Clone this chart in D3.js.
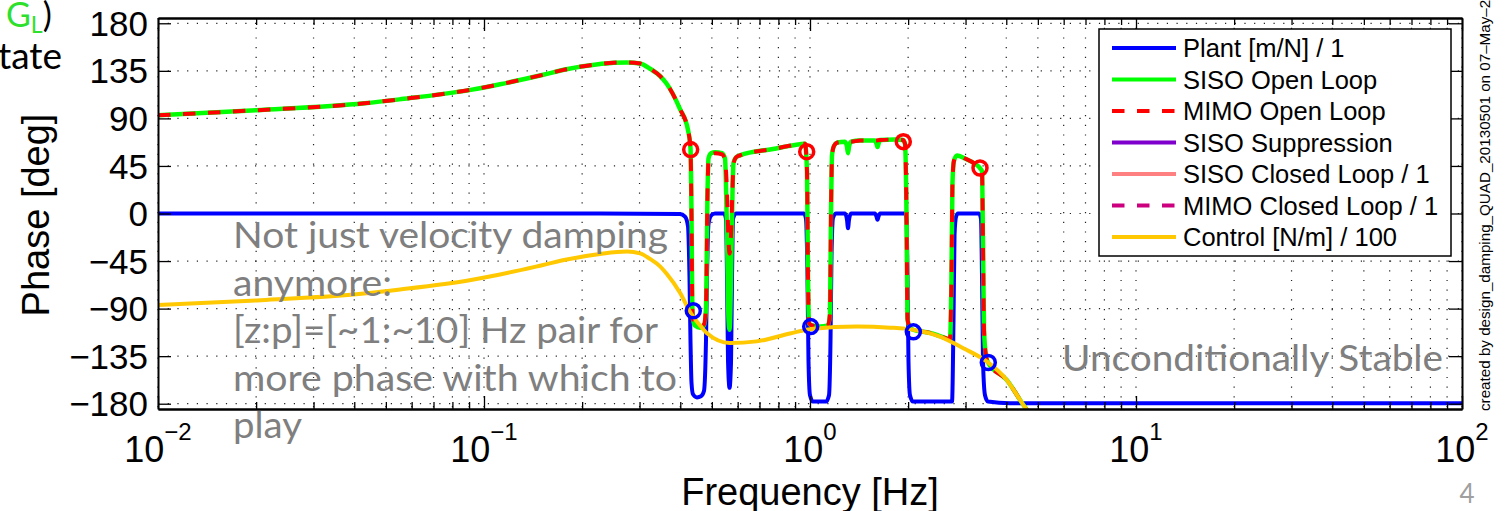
<!DOCTYPE html>
<html>
<head>
<meta charset="utf-8">
<title>Phase</title>
<script src="https://cdn.jsdelivr.net/npm/d3@7"></script>
<style>
	html, body { margin: 0; padding: 0; background: #fff; overflow: hidden; }
	svg { display: block; }
</style>
</head>
<body>
<svg id="chart" width="1509" height="511"></svg>
<script>

var legendLabels = ['Plant [m/N] / 1', 'SISO Open Loop', 'MIMO Open Loop', 'SISO Suppression', 'SISO Closed Loop / 1', 'MIMO Closed Loop / 1', 'Control [N/m] / 100']

var freqTicks = [0.01, 0.1, 1, 10, 100]
var freqMinorTicks = [0.02, 0.03, 0.04, 0.05, 0.06, 0.07, 0.08, 0.09, 0.2, 0.3, 0.4, 0.5, 0.6, 0.7, 0.8, 0.9, 2, 3, 4, 5, 6, 7, 8, 9, 20, 30, 40, 50, 60, 70, 80, 90]
var phaseTicks = [-180, -135, -90, -45, 0, 45, 90, 135, 180]

// plant [m/N]
var plantFreq = [0.01, 0.2269, 0.399, 0.4136, 0.4224, 0.4269, 0.4299, 0.4330, 0.4376, 0.4502, 0.4630, 0.4729, 0.4797, 0.4831, 0.4882, 0.4970, 0.5112, 0.5448, 0.5525, 0.5565, 0.5605, 0.5665, 0.5725, 0.5765, 0.5806, 0.5929, 0.9585, 0.9721, 0.9824, 0.9895, 1.0, 1.0214, 1.1198, 1.1437, 1.1559, 1.1641, 1.1766, 1.2018, 1.2806, 1.2987, 1.3080, 1.3171, 1.3360, 1.5826, 1.5995, 1.6109, 1.6221, 1.6394, 1.9562, 1.9770, 1.9911, 2.0050, 2.0264, 2.0701, 2.7269, 2.7560, 2.7757, 2.8053, 2.8445, 3.2994, 3.3460, 3.3700, 3.3941, 3.4421, 3.5156, 4.1069, 100]
var plantPhase = [0, 0, -0.5, -3, -12, -60, -120, -160, -171, -174, -173, -168, -120, -60, -10, -2, 0, 0, -5, -60, -140, -165, -140, -60, -5, 0, 0, -5, -60, -140, -172, -178, -178, -172, -120, -40, -4, 0, 0, -6, -14, -6, 0, 0, -3, -6, -3, 0, 0, -5, -60, -140, -172, -178, -178, -100, -20, -3, 0, 0, -5, -60, -140, -172, -178, -179.5, -179.5]

// SISO open loop
var sisoOLFreq = [0.01, 0.02, 0.043, 0.055, 0.091, 0.112, 0.152, 0.179, 0.227, 0.25, 0.274, 0.301, 0.323, 0.347, 0.363, 0.399, 0.4224, 0.4299, 0.4330, 0.4355, 0.4376, 0.4438, 0.4600, 0.4729, 0.4797, 0.4849, 0.4882, 0.4970, 0.5112, 0.5372, 0.5487, 0.5565, 0.5623, 0.5665, 0.5725, 0.5785, 0.5826, 0.5929, 0.6099, 0.7700, 0.9318, 0.9654, 0.9790, 0.9860, 0.9929, 1.0142, 1.0732, 1.1355, 1.1516, 1.1600, 1.1682, 1.1846, 1.2099, 1.2806, 1.2987, 1.3080, 1.3171, 1.3360, 1.4236, 1.5826, 1.5995, 1.6109, 1.6221, 1.6394, 1.8226, 1.9289, 1.9562, 1.9770, 1.9911, 2.0264, 2.0701, 2.3338, 2.505, 2.6885, 2.7164, 2.7359, 2.7652, 2.8248, 2.9895, 3.2069, 3.3225, 3.3700, 3.3941, 3.4177, 3.4667, 3.5156, 4.012, 4.511, 4.729]
var sisoOLPhase = [93, 97.7, 104.3, 108, 117, 122.3, 131.3, 136.5, 141.5, 142.7, 143, 142, 137, 130, 123, 99, 79, 62, 0, -88, -100, -106, -108, -106, -90, 20, 52, 57, 58, 57, 52, -20, -100, -110, -60, 20, 48, 53, 55, 61, 65.5, 66, 40, -60, -104, -106, -107, -106, -95, 0, 55, 64, 67, 68, 63, 57, 63, 68, 69, 69, 66, 63, 66, 69.5, 70, 69.5, 66, 0, -100, -108, -110, -113, -116, -119, -60, 30, 50, 55, 52, 47, 43, 40, -30, -110, -135, -141, -157.5, -181, -190]

// MIMO open loop
var mimoOLFreq = [0.01, 0.02, 0.043, 0.055, 0.091, 0.112, 0.152, 0.179, 0.227, 0.25, 0.274, 0.301, 0.323, 0.347, 0.363, 0.399, 0.4224, 0.4299, 0.4330, 0.4355, 0.4376, 0.4438, 0.4600, 0.4729, 0.4797, 0.4849, 0.4882, 0.4970, 0.5112, 0.5372, 0.5487, 0.5565, 0.5623, 0.5665, 0.5725, 0.5785, 0.5826, 0.5929, 0.6099, 0.7700, 0.9318, 0.9654, 0.9790, 0.9860, 0.9929, 1.0142, 1.0732, 1.1355, 1.1516, 1.1600, 1.1682, 1.1846, 1.2099, 1.2806, 1.3360, 1.4236, 1.5826, 1.6394, 1.8226, 1.9289, 1.9562, 1.9770, 1.9911, 2.0264, 2.0701, 2.3338, 2.505, 2.6885, 2.7164, 2.7359, 2.7652, 2.8248, 2.9895, 3.2069, 3.3225, 3.3700, 3.3941, 3.4177, 3.4667, 3.5156, 4.012, 4.511, 4.729]
var mimoOLPhase = [93, 97.7, 104.3, 108, 117, 122.3, 131.3, 136.5, 141.5, 142.7, 143, 142, 137, 130, 123, 99, 79, 62, 0, -88, -100, -105, -107, -105, -88, 20, 50, 56, 57, 56, 51, 20, -25, -38, -20, 25, 47, 53, 55, 61, 65.5, 66, 40, -60, -104, -106, -107, -106, -95, 0, 55, 64, 67, 68, 68, 69, 69, 69.5, 70, 69.5, 66, 0, -100, -108, -110, -113, -116, -119, -60, 30, 50, 55, 52, 47, 43, 40, -30, -110, -135, -141, -157.5, -181, -190]

// control [N/m] / 100
var controlFreq = [0.01, 0.0201, 0.0428, 0.0553, 0.0912, 0.112, 0.1517, 0.1794, 0.2269, 0.2747, 0.301, 0.323, 0.3467, 0.3634, 0.3993, 0.4284, 0.46, 0.482, 0.568, 0.686, 0.868, 1.024, 1.391, 1.76, 2.075, 2.505, 2.953, 3.483, 4.012, 4.511, 4.729]
var controlPhase = [-86.6, -82.3, -75.7, -71.9, -62.9, -57.7, -48.7, -43.5, -38.3, -36, -37.7, -43, -50, -57, -75, -93, -106, -113, -122.5, -121, -113.5, -109, -107, -108, -110, -116.5, -127.5, -140, -157.5, -181, -190]

// circled points
var olMarkFreq = [0.4305, 0.9770, 1.9329, 3.3225]
var olMarkPhase = [60.5, 58.5, 68, 43]
var ctrlMarkFreq = [0.4385, 1.0049, 2.075, 3.5229]
var ctrlMarkPhase = [-92, -107, -112, -141]

var noteLines = ['Not just velocity damping', 'anymore:', '[z:p]=[~1:~10] Hz pair for', 'more phase with which to', 'play']
var stableNote = 'Unconditionally Stable'
var creditNote = 'created by design_damping_QUAD_20130501 on 07\u2013May\u20132013'

var W = 1509, H = 511,
	box = { left: 158, right: 1462, top: 18, bottom: 409 },
	helv = '"Liberation Sans", Arial, Helvetica, sans-serif',
	slide = 'Lato, "Open Sans", sans-serif',
	noteWidths = [435, 159, 425, 444, 69],
	minus = (v) => (v < 0 ? '\u2212' : '') + Math.abs(v)

var styles = [
	{ color: '#0000ff', dash: null },
	{ color: '#00ff00', dash: null },
	{ color: '#ff0000', dash: '12.5,12.5' },
	{ color: '#7f00cc', dash: null },
	{ color: '#ff8080', dash: null },
	{ color: '#cc007f', dash: '12.5,12.5' },
	{ color: '#ffc800', dash: null }
]

var svg = d3.select('#chart')
svg.append('rect').attr('width', W).attr('height', H).attr('fill', '#fff')

var x = d3.scaleLog().domain([0.01, 100]).range([box.left, box.right])
var y = d3.scaleLinear().domain([-185, 185]).range([box.bottom, box.top])

svg.append('clipPath').attr('id', 'plotArea').append('rect')
	.attr('x', box.left).attr('y', box.top)
	.attr('width', box.right - box.left).attr('height', box.bottom - box.top)

// dotted grid
var grid = svg.append('g')
grid.selectAll('.gx').data(freqTicks.concat(freqMinorTicks)).enter().append('line')
	.attr('class', 'gx')
	.attr('x1', (d) => x(d)).attr('x2', (d) => x(d))
	.attr('y1', box.top).attr('y2', box.bottom)
grid.selectAll('.gy').data(phaseTicks).enter().append('line')
	.attr('class', 'gy')
	.attr('x1', box.left).attr('x2', box.right)
	.attr('y1', (d) => y(d)).attr('y2', (d) => y(d))
grid.selectAll('line')
	.attr('stroke', '#222').attr('stroke-width', 1.2).attr('stroke-dasharray', '1.2,8.5')

// curves
var line = d3.line().x((d) => x(d[0])).y((d) => y(d[1])).curve(d3.curveMonotoneX)
var plot = svg.append('g').attr('clip-path', 'url(#plotArea)')

var curves = [
	{ f: plantFreq, p: plantPhase, s: styles[0], w: 4 },
	{ f: sisoOLFreq, p: sisoOLPhase, s: styles[1], w: 4.5 },
	{ f: mimoOLFreq, p: mimoOLPhase, s: styles[2], w: 4 },
	{ f: controlFreq, p: controlPhase, s: styles[6], w: 4 }
]
curves.forEach((c) => {
	plot.append('path').datum(d3.zip(c.f, c.p))
		.attr('d', line)
		.attr('fill', 'none')
		.attr('stroke', c.s.color)
		.attr('stroke-width', c.w)
		.attr('stroke-dasharray', c.s.dash)
		.attr('stroke-linejoin', 'round')
})

plot.selectAll('.olMark').data(d3.zip(olMarkFreq, olMarkPhase)).enter().append('circle')
	.attr('class', 'olMark')
	.attr('cx', (d) => x(d[0])).attr('cy', (d) => y(d[1])).attr('r', 7)
	.attr('fill', 'none').attr('stroke', '#ff0000').attr('stroke-width', 3.5)
plot.selectAll('.ctrlMark').data(d3.zip(ctrlMarkFreq, ctrlMarkPhase)).enter().append('circle')
	.attr('class', 'ctrlMark')
	.attr('cx', (d) => x(d[0])).attr('cy', (d) => y(d[1])).attr('r', 7)
	.attr('fill', 'none').attr('stroke', '#0000ff').attr('stroke-width', 3.5)

// axes, ticks pointing inward
var axisG = (gen, tx, ty) => svg.append('g').attr('class', 'axis')
	.attr('transform', 'translate(' + tx + ',' + ty + ')')
	.call(gen.tickSizeOuter(0).tickFormat(''))

axisG(d3.axisBottom(x).tickValues(freqTicks).tickSize(-13), 0, box.bottom)
axisG(d3.axisBottom(x).tickValues(freqMinorTicks).tickSize(-7), 0, box.bottom)
axisG(d3.axisTop(x).tickValues(freqTicks).tickSize(-13), 0, box.top)
axisG(d3.axisTop(x).tickValues(freqMinorTicks).tickSize(-7), 0, box.top)
axisG(d3.axisLeft(y).tickValues(phaseTicks).tickSize(-13), box.left, 0)
axisG(d3.axisRight(y).tickValues(phaseTicks).tickSize(-13), box.right, 0)
svg.selectAll('.axis .domain').attr('stroke', '#000').attr('stroke-width', 2)
svg.selectAll('.axis .tick line').attr('stroke', '#000').attr('stroke-width', 1.3)

// tick labels
svg.append('g').selectAll('text').data(phaseTicks).enter().append('text')
	.attr('x', box.left - 10).attr('y', (d) => y(d)).attr('dy', '0.36em')
	.attr('text-anchor', 'end').attr('font-family', helv).attr('font-size', 35)
	.text(minus)

var xl = svg.append('g').selectAll('text').data(freqTicks).enter().append('text')
	.attr('x', (d) => x(d)).attr('y', 462).attr('text-anchor', 'middle')
	.attr('font-family', helv).attr('font-size', 36)
xl.append('tspan').text('10')
xl.append('tspan').attr('font-size', 24).attr('dy', -22)
	.text((d) => minus(Math.round(Math.log10(d))))

// axis titles
svg.append('text').attr('x', 810).attr('y', 505).attr('text-anchor', 'middle')
	.attr('font-family', helv).attr('font-size', 38).text('Frequency [Hz]')
svg.append('text').attr('transform', 'translate(49,215) rotate(-90)').attr('text-anchor', 'middle')
	.attr('font-family', helv).attr('font-size', 38).text('Phase [deg]')

// legend
var leg = svg.append('g')
leg.append('rect').attr('x', 1099).attr('y', 29).attr('width', 352).attr('height', 227)
	.attr('fill', '#fff').attr('stroke', '#000').attr('stroke-width', 1.5)
var items = leg.selectAll('.item').data(legendLabels).enter().append('g')
	.attr('class', 'item')
	.attr('transform', (d, i) => 'translate(1112,' + (48 + i * 31.5) + ')')
items.append('line').attr('x1', 0).attr('x2', 64)
	.attr('stroke', (d, i) => styles[i].color).attr('stroke-width', 4)
	.attr('stroke-dasharray', (d, i) => styles[i].dash)
items.append('text').attr('x', 71).attr('y', 9)
	.attr('font-family', helv).attr('font-size', 25.5).text((d) => d)

// slide annotations
var notes = svg.append('g').attr('font-family', slide).attr('fill', '#7f7f7f').attr('font-size', 37)
notes.selectAll('text').data(noteLines).enter().append('text')
	.attr('x', 233).attr('y', (d, i) => 248 + i * 47.5)
	.attr('textLength', (d, i) => noteWidths[i]).attr('lengthAdjust', 'spacingAndGlyphs')
	.text((d) => d)
notes.append('text').attr('x', 1062).attr('y', 371)
	.attr('textLength', 381).attr('lengthAdjust', 'spacingAndGlyphs').text(stableNote)

svg.append('text').attr('x', 1467).attr('y', 503).attr('text-anchor', 'middle')
	.attr('font-family', slide).attr('font-size', 26).attr('fill', '#a0a0a0').text('4')

var gl = svg.append('text').attr('x', 6).attr('y', 27)
	.attr('font-family', slide).attr('font-size', 34).attr('fill', '#2ee02e')
gl.append('tspan').text('G')
gl.append('tspan').attr('font-size', 23).attr('dy', 6).text('L')
gl.append('tspan').attr('fill', '#000').attr('dy', -6).text(')')
svg.append('text').attr('x', 62).attr('y', 69).attr('text-anchor', 'end')
	.attr('font-family', slide).attr('font-size', 37).attr('fill', '#000').text('tate')

svg.append('text').attr('transform', 'translate(1490,411) rotate(-90)')
	.attr('font-family', helv).attr('font-size', 15.2).attr('fill', '#000').text(creditNote)

</script>
</body>
</html>
